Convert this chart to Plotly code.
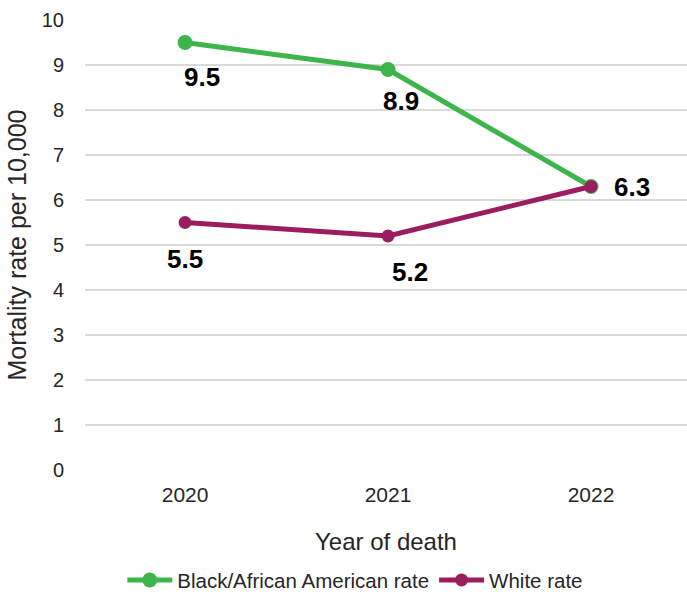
import plotly.graph_objects as go

years = ["2020", "2021", "2022"]
black_rate = [9.5, 8.9, 6.3]
white_rate = [5.5, 5.2, 6.3]
y_ticks = list(range(0, 11))

GREEN = "#3DB54A"
PURPLE = "#9B1D5F"
FONT = "Liberation Sans"

fig = go.Figure()
fig.add_trace(go.Scatter(
    x=[0, 1, 2], y=black_rate, mode="lines+markers", name="Black/African American rate",
    line=dict(color=GREEN, width=5), marker=dict(size=15, color=GREEN)))
fig.add_trace(go.Scatter(
    x=[0, 1, 2], y=white_rate, mode="lines+markers", name="White rate",
    line=dict(color=PURPLE, width=5), marker=dict(size=13, color=PURPLE)))

# data label placement (offsets in px)
label_pos = {
    ("b", 0): dict(xshift=17, yshift=-34, xanchor="center"),
    ("b", 1): dict(xshift=13, yshift=-31, xanchor="center"),
    ("b", 2): dict(xshift=21, yshift=0, xanchor="left"),
    ("w", 0): dict(xshift=0, yshift=-36, xanchor="center"),
    ("w", 1): dict(xshift=22, yshift=-36, xanchor="center"),
}
for key, series in (("b", black_rate), ("w", white_rate)):
    for i, v in enumerate(series):
        if (key, i) not in label_pos:
            continue
        fig.add_annotation(x=i, y=v, xref="x", yref="y", text=f"<b>{v:.1f}</b>",
                           showarrow=False, yanchor="middle",
                           font=dict(family=FONT, size=26, color="#000000"),
                           **label_pos[(key, i)])

fig.update_layout(
    width=687, height=595,
    margin=dict(l=85, r=0, t=20, b=125, autoexpand=False),
    paper_bgcolor="white", plot_bgcolor="white",
    font=dict(family=FONT, color="#262626"),
    showlegend=True,
    legend=dict(orientation="h", x=0.449, xanchor="center", yref="container",
                y=0.025, yanchor="middle",
                font=dict(family=FONT, size=20.5, color="#262626"),
                itemwidth=45, tracegroupgap=0),
    xaxis=dict(
        range=[-0.493, 2.473], tickmode="array", tickvals=[0, 1, 2], ticktext=years,
        showgrid=False, zeroline=False, showline=False, ticks="", automargin=False,
        ticklabelstandoff=10,
        tickfont=dict(family=FONT, size=21, color="#262626"),
        title=dict(text="Year of death", font=dict(family=FONT, size=24, color="#262626"),
                   standoff=28)),
    yaxis=dict(
        range=[0, 10], tickmode="array", tickvals=y_ticks, ticktext=[str(t) for t in y_ticks],
        showgrid=True, gridcolor="#D9D9D9", gridwidth=1.5, zeroline=False, showline=False,
        ticks="", ticklabelstandoff=20, automargin=False,
        tickfont=dict(family=FONT, size=20, color="#262626"),
        title=dict(text="Mortality rate per 10,000", font=dict(family=FONT, size=25, color="#262626"),
                   standoff=8)),
)

fig.write_html("out.html")
